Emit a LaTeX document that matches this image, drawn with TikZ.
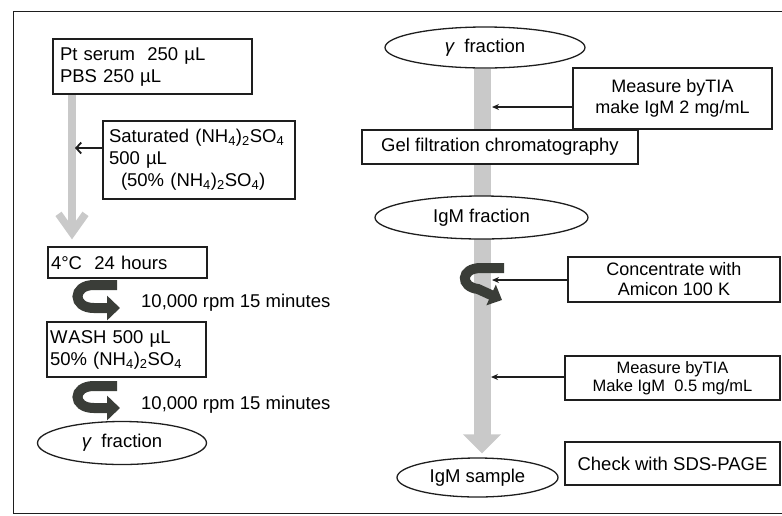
\documentclass[tikz,border=0pt]{standalone}
\usepackage{fontspec}
\setmainfont{Liberation Sans}
\usetikzlibrary{arrows.meta,shapes.geometric}
\pgfdeclarelayer{bg}
\pgfsetlayers{bg,main}
\definecolor{shaft}{HTML}{C9C9C9}
\definecolor{turncol}{HTML}{3A3D38}
\definecolor{ink}{HTML}{1E1E1E}
\newcommand{\nhsub}{(NH\textsubscript{4})\textsubscript{2}SO\textsubscript{4}}
\newcommand{\gam}{{\itshape γ}}
\begin{document}
\begin{tikzpicture}[x=1pt,y=-1pt,
  mainfont/.style={font=\fontsize{18.5}{22}\selectfont},
  box/.style={draw=ink,line width=1.3pt,fill=white,inner sep=0pt,mainfont},
  lbox/.style={box,align=left,inner ysep=0pt},
  cbox/.style={box,align=center},
  oval/.style={ellipse,draw=ink,line width=1.3pt,fill=white,inner sep=0pt,mainfont},
  ptr/.style={draw=ink,line width=1.3pt,-{Stealth[length=7pt,width=6pt]}},
  lptr/.style={draw=ink,line width=1.8pt,-{Straight Barb[length=5pt,width=11pt]}},
  turn/.style={draw=turncol,line width=10pt,-{Triangle[length=13pt,width=24pt]}},
  plain/.style={mainfont,inner sep=0pt,anchor=west}
]
\useasboundingbox (0,0) rectangle (782,515);
% frame
\draw[ink,line width=1pt] (782,11) -- (13,11) -- (13,513) -- (782,513);

% ---------- left column ----------
\node[lbox,text width=185pt,inner xsep=7pt,minimum height=55pt] (b1) at (152.5,66.5)
  {Pt serum\ \ 250 µL\\PBS 250 µL};
\node[lbox,text width=180pt,inner xsep=6pt,minimum height=78pt] (b2) at (199,160)
  {Saturated \nhsub\\500 µL\\\hspace*{12pt}(50\% \nhsub)};
\node[lbox,text width=153pt,inner xsep=3pt,minimum height=31pt] (b3) at (127.5,262.5)
  {4°C\ \ 24 hours};
\node[lbox,text width=153pt,inner xsep=3pt,minimum height=55pt] (b4) at (126.5,349.5)
  {W\kern1pt ASH 500 µL\\50\% \nhsub};
\node[oval,minimum width=169pt,minimum height=43pt] (e0) at (122,443)
  {\gam\ \ fraction};
\node[plain] (t1) at (141,303) {10,000 rpm 15 minutes};
\node[plain] (t2) at (141,405) {10,000 rpm 15 minutes};

\coordinate (gl) at (72,0);
\coordinate (gla) at (75,148);
\begin{pgfonlayer}{bg}
  \draw[shaft,line width=7.5pt,-{Straight Barb[length=19pt,width=27pt]},shorten >=7pt]
    (b1.south -| gl) -- (b3.north -| gl);
\end{pgfonlayer}
\draw[lptr] (b2.west |- gla) -- (gla);

% turning arrows (centrifugation)
\coordinate (c1s) at (117,285);
\coordinate (c1e) at (120,308);
\draw[turn] (c1s) -- (94,285) .. controls (72,285) and (72,308) .. (94,308) -- (c1e);
\coordinate (c2s) at (117,386);
\coordinate (c2e) at (120,408);
\draw[turn] (c2s) -- (94,386) .. controls (72,386) and (72,408) .. (94,408) -- (c2e);

% ---------- right column ----------
\node[oval,minimum width=200pt,minimum height=41pt] (e1) at (485,47.5)
  {\gam\ \ fraction};
\node[cbox,minimum width=199pt,minimum height=61pt,font=\fontsize{18}{21}\selectfont] (m1) at (672.5,98.5)
  {Measure byTIA\\make IgM 2 mg/mL};
\node[cbox,minimum width=276pt,minimum height=34pt] (gel) at (500,147)
  {Gel filtration chromatography};
\node[oval,minimum width=213pt,minimum height=43pt] (e2) at (481.5,217.5)
  {IgM fraction};
\node[cbox,minimum width=212pt,minimum height=45pt,font=\fontsize{18}{20}\selectfont] (conc) at (674,279.5)
  {Concentrate with\\Amicon 100 K};
\node[cbox,minimum width=215pt,minimum height=44pt,font=\fontsize{16.5}{18}\selectfont] (m2) at (672.5,378)
  {Measure byTIA\\Make IgM\ \ 0.5 mg/mL};
\node[cbox,minimum width=215pt,minimum height=43pt] (sds) at (672.5,463.5)
  {Check with SDS-PAGE};
\node[oval,minimum width=161pt,minimum height=39pt] (e3) at (477.5,477.5)
  {IgM sample};

\coordinate (gr) at (482,0);
\begin{pgfonlayer}{bg}
  \draw[shaft,line width=17pt,-{Triangle[length=19pt,width=37pt]},shorten >=4pt]
    (e1.south -| gr) -- (e3.north -| gr);
\end{pgfonlayer}

% turning arrow around shaft
\coordinate (c3s) at (504,268);
\coordinate (c3e) at (502,300);
\draw[turn,-{Triangle[length=12pt,width=22pt]}] (c3s) -- (481,268) .. controls (460,268) and (460,287) .. (478,289) -- (c3e);

\coordinate (a1) at (492,107);
\coordinate (a2) at (492,280);
\coordinate (a3) at (491,377);
\draw[ptr] (m1.west |- a1) -- (a1);
\draw[ptr] (conc.west |- a2) -- (a2);
\draw[ptr] (m2.west |- a3) -- (a3);
\end{tikzpicture}
\end{document}
